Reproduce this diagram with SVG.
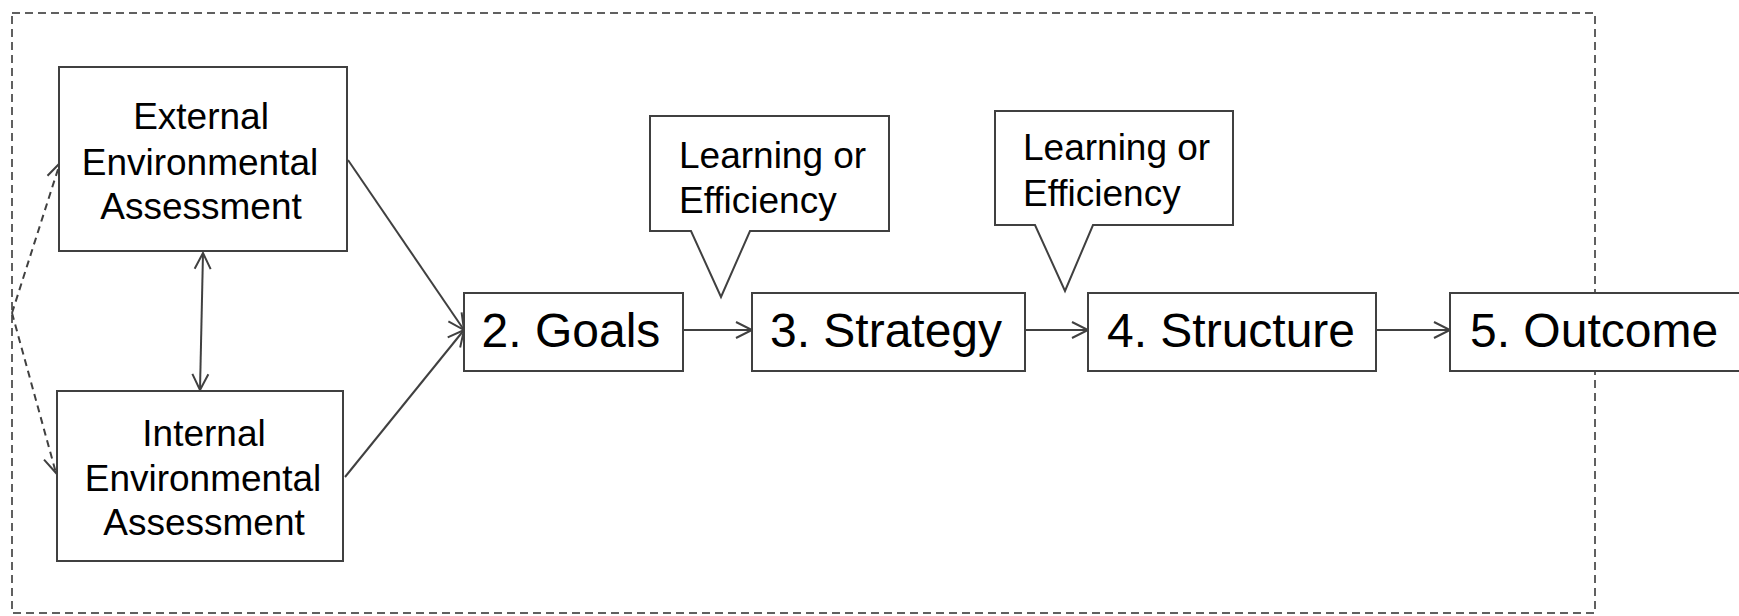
<svg xmlns="http://www.w3.org/2000/svg" width="1739" height="616" viewBox="0 0 1739 616">
  <style>
    .box { fill: #ffffff; stroke: #404040; stroke-width: 2; }
    .lbl { font-family: "Liberation Sans", Arial, sans-serif; fill: #000000; }
    .small { font-size: 37px; }
    .big { font-size: 48px; }
    .mid { text-anchor: middle; }
    .link { fill: none; stroke: #404040; stroke-width: 2; }
    .dash { stroke-dasharray: 7 5; }
    .frame { fill: none; stroke: #606060; stroke-width: 2; stroke-dasharray: 8 5; }
  </style>
  <defs>
    <marker id="open" markerUnits="userSpaceOnUse" markerWidth="24" markerHeight="24" viewBox="-20 -12 24 24" refX="0" refY="0" orient="auto-start-reverse">
      <path d="M-16,-8 L0,0 L-16,8" fill="none" stroke="#404040" stroke-width="2"/>
    </marker>
  </defs>

  <rect width="1739" height="616" fill="#ffffff"/>

  <!-- dashed boundary -->
  <rect class="frame" x="12" y="13" width="1583" height="600"/>

  <!-- connectors -->
  <g id="connectors">
    <line class="link dash" x1="12" y1="313" x2="60" y2="163" marker-end="url(#open)"/>
    <line class="link dash" x1="12" y1="313" x2="56" y2="473" marker-end="url(#open)"/>
    <line class="link" x1="203" y1="253" x2="200" y2="390" marker-start="url(#open)" marker-end="url(#open)"/>
    <line class="link" x1="348" y1="160" x2="464" y2="330" marker-end="url(#open)"/>
    <line class="link" x1="345" y1="477" x2="464" y2="330" marker-end="url(#open)"/>
    <line class="link" x1="683" y1="330" x2="752" y2="330" marker-end="url(#open)"/>
    <line class="link" x1="1025" y1="330" x2="1088" y2="330" marker-end="url(#open)"/>
    <line class="link" x1="1377" y1="330" x2="1450" y2="330" marker-end="url(#open)"/>
  </g>

  <g id="external">
    <rect class="box" x="59" y="67" width="288" height="184"/>
    <text class="lbl small mid" x="201" y="129">External</text>
    <text class="lbl small mid" x="200" y="175">Environmental</text>
    <text class="lbl small mid" x="201" y="219">Assessment</text>
  </g>

  <g id="internal">
    <rect class="box" x="57" y="391" width="286" height="170"/>
    <text class="lbl small mid" x="204" y="446">Internal</text>
    <text class="lbl small mid" x="203" y="491">Environmental</text>
    <text class="lbl small mid" x="204" y="535">Assessment</text>
  </g>

  <g id="goals">
    <rect class="box" x="464" y="293" width="219" height="78"/>
    <text class="lbl big mid" x="571" y="347">2. Goals</text>
  </g>

  <g id="strategy">
    <rect class="box" x="752" y="293" width="273" height="78"/>
    <text class="lbl big mid" x="886" y="347">3. Strategy</text>
  </g>

  <g id="structure">
    <rect class="box" x="1088" y="293" width="288" height="78"/>
    <text class="lbl big mid" x="1231" y="347">4. Structure</text>
  </g>

  <g id="outcome">
    <rect class="box" x="1450" y="293" width="295" height="78"/>
    <text class="lbl big" x="1470" y="347">5. Outcome</text>
  </g>

  <g id="note-strategy">
    <path class="box" d="M650,116 H889 V231 H750 L721,297 L691,231 H650 Z"/>
    <text class="lbl small" x="679" y="168">Learning or</text>
    <text class="lbl small" x="679" y="213">Efficiency</text>
  </g>

  <g id="note-structure">
    <path class="box" d="M995,111 H1233 V225 H1093 L1065,291 L1035,225 H995 Z"/>
    <text class="lbl small" x="1023" y="160">Learning or</text>
    <text class="lbl small" x="1023" y="206">Efficiency</text>
  </g>
</svg>
